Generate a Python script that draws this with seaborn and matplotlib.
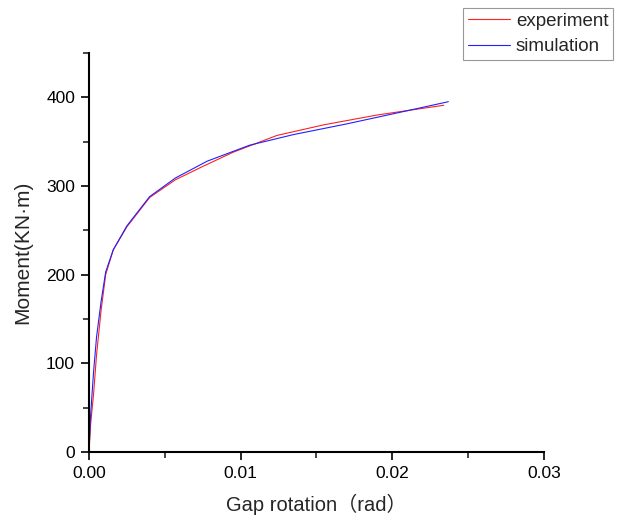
import matplotlib
matplotlib.use("Agg")
import matplotlib.pyplot as plt
from matplotlib.ticker import MultipleLocator, FixedLocator
import seaborn as sns
import pandas as pd

# Moment vs. gap rotation curves
exp_rot = [0, 0.0001, 0.0003, 0.0005, 0.0008, 0.0011, 0.0016, 0.0025, 0.004,
           0.0057, 0.0075, 0.0095, 0.0124, 0.0155, 0.019, 0.0234]
exp_moment = [0, 30, 65, 110, 160, 200, 228, 254, 287,
              307, 322, 338, 357, 369, 380, 391]

sim_rot = [0, 0.0001, 0.0003, 0.0005, 0.0008, 0.0011, 0.0016, 0.0025, 0.004,
           0.0057, 0.0078, 0.0106, 0.0135, 0.017, 0.0205, 0.0237]
sim_moment = [0, 40, 90, 130, 170, 203, 228, 255, 288,
              309, 328, 346, 358, 370, 383, 395]

series_names = ["experiment", "simulation"]
series_colors = ["#ff2020", "#2020ff"]
x_ticks = [0.00, 0.01, 0.02, 0.03]
x_tick_labels = ["0.00", "0.01", "0.02", "0.03"]
y_ticks = [0, 100, 200, 300, 400]

df = pd.concat([
    pd.DataFrame({"rot": exp_rot, "moment": exp_moment, "series": series_names[0]}),
    pd.DataFrame({"rot": sim_rot, "moment": sim_moment, "series": series_names[1]}),
])

sns.set_style("ticks")
plt.rcParams["font.family"] = ["Liberation Sans", "Noto Sans CJK SC", "DejaVu Sans"]

fig = plt.figure(figsize=(6.18, 5.19), dpi=100)
ax = fig.add_axes([0.144, 0.129, 0.736, 0.769])

sns.lineplot(data=df, x="rot", y="moment", hue="series", sort=False,
             palette=dict(zip(series_names, series_colors)),
             linewidth=0.8, ax=ax, legend=False, estimator=None)

ax.set_xlim(0, 0.03)
ax.set_ylim(0, 450)
ax.xaxis.set_major_locator(FixedLocator(x_ticks))
ax.set_xticklabels(x_tick_labels)
ax.xaxis.set_minor_locator(MultipleLocator(0.005))
ax.yaxis.set_major_locator(FixedLocator(y_ticks))
ax.yaxis.set_minor_locator(MultipleLocator(50))
ax.tick_params(which="major", direction="out", length=6, width=1.2,
               labelsize=12.5, colors="black", pad=4)
ax.tick_params(which="minor", direction="out", length=4, width=1.2)
for side in ["top", "right"]:
    ax.spines[side].set_visible(False)
for side in ["left", "bottom"]:
    ax.spines[side].set_linewidth(1.5)
    ax.spines[side].set_color("black")

ax.set_xlabel("Gap rotation（rad）", fontsize=14.5, labelpad=9)
ax.set_ylabel("Moment(KN·m)", fontsize=15, labelpad=10)

handles = [plt.Line2D([], [], color=c, linewidth=0.8) for c in series_colors]
leg = fig.legend(handles, series_names, loc="upper right",
                 bbox_to_anchor=(0.992, 0.985), fontsize=13.5, frameon=True,
                 fancybox=False, handlelength=2.25, handletextpad=0.32,
                 borderpad=0.25, labelspacing=0.45, borderaxespad=0)
leg.get_frame().set_edgecolor("#808080")
leg.get_frame().set_linewidth(0.8)

fig.savefig("out.png", dpi=100)
